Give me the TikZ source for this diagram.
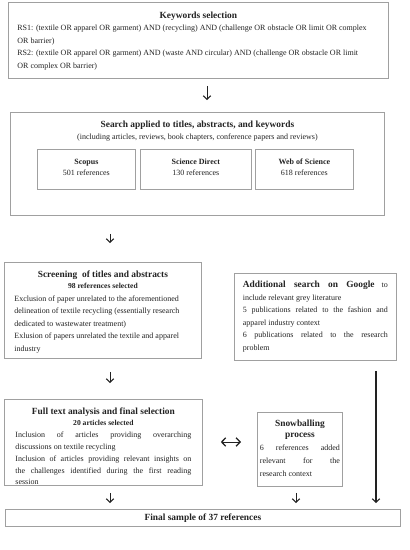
\documentclass[tikz,border=0pt]{standalone}
\usepackage{fontspec}
\setmainfont{Liberation Serif}
\usetikzlibrary{arrows.meta}
\definecolor{edge}{HTML}{A0A0A0}
\definecolor{ink}{HTML}{222222}
\newcommand\bodyfont{\fontsize{8}{12.5}\selectfont}
\newcommand\titlefont{\fontsize{9.4}{12.4}\selectfont\bfseries}
\newcommand\subfont{\fontsize{7.6}{11}\selectfont\bfseries}
\tikzset{
  box/.style={draw=edge, line width=0.8pt, inner ysep=0pt, anchor=north west, text=ink, font=\bodyfont, align=justify},
  arr/.style={-{Straight Barb[length=3.5pt,width=7.5pt,line width=1.1pt]}, line width=0.9pt, draw=ink},
  darr/.style={{Straight Barb[length=4pt,width=8.5pt,line width=1.3pt]}-{Straight Barb[length=4pt,width=8.5pt,line width=1.3pt]}, line width=0.9pt, draw=ink},
}
\begin{document}
\begin{tikzpicture}[x=1pt,y=-1pt]
\useasboundingbox (0,0) rectangle (410,550);

% Keywords selection
\node[box, inner xsep=9pt, text width=362pt, text height=16pt, text depth=60pt] (kw) at (8,2)
{{\centering\titlefont Keywords selection\par}
{\raggedright\bodyfont RS1: (textile OR apparel OR garment) AND (recycling) AND (challenge OR obstacle OR limit OR complex\\ OR barrier)\par
RS2: (textile OR apparel OR garment) AND (waste AND circular) AND (challenge OR obstacle OR limit\\ OR complex OR barrier)\par}};

% Search
\node[box, inner xsep=5pt, text width=364pt, text height=15pt, text depth=88pt] (search) at (10,112)
{{\centering\titlefont Search applied to titles, abstracts, and keywords\par
{\fontsize{8}{12}\selectfont\mdseries (including articles, reviews, book chapters, conference papers and reviews)\par}}};

\node[box, inner xsep=2pt, text width=94pt, text height=15pt, text depth=25pt] (scopus) at (37,149)
{{\centering\fontsize{8}{11.5}\selectfont{\bfseries Scopus}\par 501 references\par}};
\node[box, inner xsep=2pt, text width=107pt, text height=15pt, text depth=25pt] (sd) at (140,149)
{{\centering\fontsize{8}{11.5}\selectfont{\bfseries Science Direct}\par 130 references\par}};
\node[box, inner xsep=2pt, text width=94pt, text height=15pt, text depth=25pt] (wos) at (255,149)
{{\centering\fontsize{8}{11.5}\selectfont{\bfseries Web of Science}\par 618 references\par}};

% Screening
\node[box, inner xsep=10pt, text width=177pt, text height=15pt, text depth=81pt] (screen) at (4,262)
{{\centering\titlefont Screening\ \ of titles and abstracts\par}
{\centering\subfont 98 references selected\par}
{\raggedright\fontsize{8}{12.6}\selectfont Exclusion of paper unrelated to the aforementioned\\ delineation of textile recycling (essentially research\\ dedicated to wastewater treatment)\par
Exlusion of papers unrelated the textile and apparel\\ industry\par}};

% Additional search
\node[box, inner xsep=8.5pt, text width=145pt, text height=14pt, text depth=73pt] (add) at (234,273)
{{\fontsize{8}{12.6}\selectfont {\titlefont Additional search on Google} to\linebreak include relevant grey literature\par
5 publications related to the fashion and\linebreak apparel industry context\par
6 publications related to the research\linebreak problem\par}};

% Full text analysis
\node[box, inner xsep=11pt, text width=176pt, text height=15pt, text depth=71pt] (full) at (4,399)
{{\centering\titlefont Full text analysis and final selection\par}
{\centering\subfont 20 articles selected\par}
{\fontsize{8}{11.9}\selectfont Inclusion of articles providing overarching\linebreak discussions on textile recycling\par
Inclusion of articles providing relevant insights on\linebreak the challenges identified during the first reading\linebreak session\par}};

% Snowballing
\node[box, inner xsep=2.5pt, text width=80pt, text height=14pt, text depth=60pt] (snow) at (257,412)
{{\centering\fontsize{9.4}{11}\selectfont\bfseries Snowballing\\ process\par}
{\fontsize{8}{13}\selectfont 6 references added\linebreak relevant for the\linebreak research context\par}};

% Final
\node[box, inner xsep=0pt, text width=395pt, text height=11pt, text depth=6pt] (final) at (5,509)
{{\centering\titlefont Final sample of 37 references\par}};

% Connectors
\draw[arr, shorten <=7pt, shorten >=12pt] (207,0 |- kw.south) -- (207,0 |- search.north);
\draw[arr, shorten <=18pt, shorten >=19pt] (110,0 |- search.south) -- (110,0 |- screen.north);
\draw[arr, shorten <=13pt, shorten >=16pt] (110,0 |- screen.south) -- (110,0 |- full.north);
\draw[arr, line width=1.3pt, shorten <=10pt, shorten >=6pt] (376,0 |- add.south) -- (376,0 |- final.north);
\draw[arr, shorten <=7pt, shorten >=6pt] (110,0 |- full.south) -- (110,0 |- final.north);
\draw[arr, shorten <=6pt, shorten >=6pt] (296,0 |- snow.south) -- (296,0 |- final.north);
\draw[darr, shorten <=18pt, shorten >=16pt] (full.east |- 0,442) -- (snow.west |- 0,442);
\end{tikzpicture}
\end{document}
